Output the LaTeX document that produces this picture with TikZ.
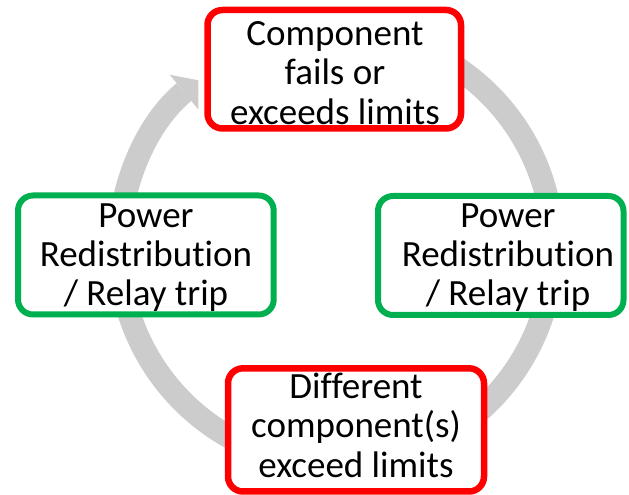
\documentclass[tikz,border=0pt]{standalone}
\usepackage{fontspec}
\setmainfont{Carlito}[Ligatures=NoCommon]
\usetikzlibrary{arrows.meta}
\definecolor{ringgray}{HTML}{CCCCCC}
\definecolor{alertred}{HTML}{FF0000}
\definecolor{okgreen}{HTML}{00B050}
% struts that make a three-line label's centre sit on its middle baseline
\newcommand\firstlinestrut{\rule{0pt}{30pt}}
\newcommand\lastlinestrut{\rule[-30pt]{0pt}{30pt}}
\begin{document}
\begin{tikzpicture}[x=1pt,y=1pt,
  stage/.style={draw, fill=white, rounded corners=15pt, inner sep=0pt, line width=6.5pt},
  failstage/.style={stage, draw=alertred},
  tripstage/.style={stage, draw=okgreen, line width=6pt},
  stagetext/.style={font=\fontsize{37}{39.3}\selectfont, align=center, inner sep=0pt}]
\useasboundingbox (0,0) rectangle (629,495);

% the cycle: a thick grey ring running clockwise
\coordinate (hub) at (336,247);
\draw[ringgray, line width=23pt,
      -{Triangle[width=45pt,length=18.5pt,line width=0pt]}]
  ([shift={(60:217)}]hub) arc[start angle=60, end angle=-230.6, radius=217];

% the four stages
\node[failstage, minimum width=253.5pt, minimum height=118.5pt] (fails) at (334.25,425.75) {};
\node[tripstage, minimum width=245.5pt, minimum height=119pt] (tripR) at (500.75,239.5) {};
\node[failstage, minimum width=256pt, minimum height=123.2pt] (spread) at (356,65.1) {};
\node[tripstage, minimum width=255.7pt, minimum height=119pt] (tripL) at (145.85,240) {};

% their labels
\node[stagetext] (failsText) at (335,410)
  {\firstlinestrut Component\\fails or\\exceeds limits\lastlinestrut};
\node[stagetext] (tripRText) at (508,228.5)
  {\firstlinestrut Power\\Redistribution\\/ Relay trip\lastlinestrut};
\node[stagetext] (spreadText) at (356,57)
  {\firstlinestrut Different\\component(s)\\exceed limits\lastlinestrut};
\node[stagetext] (tripLText) at (146,228.5)
  {\firstlinestrut Power\\Redistribution\\/ Relay trip\lastlinestrut};
\end{tikzpicture}
\end{document}
